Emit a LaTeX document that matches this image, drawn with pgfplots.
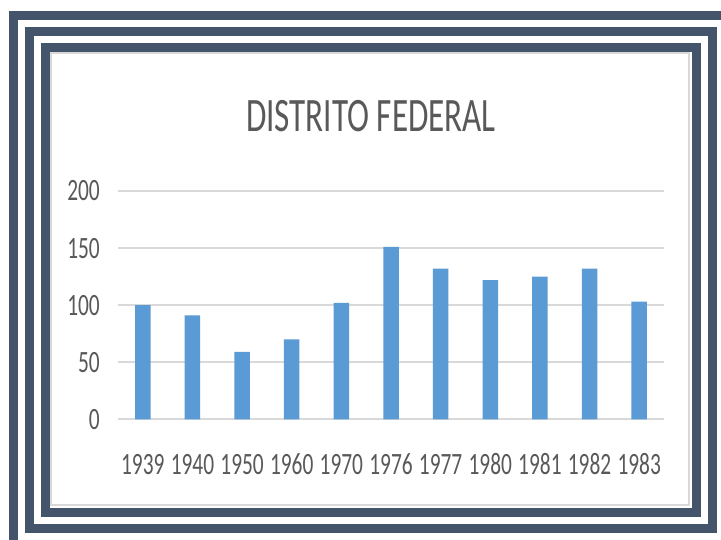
\documentclass[border=0pt]{standalone}
\usepackage{fontspec}
\setmainfont[FakeStretch=0.69]{Carlito}
\usepackage{pgfplots}
\pgfplotsset{compat=1.18}
\definecolor{framec}{HTML}{44546A}
\definecolor{barc}{HTML}{5B9BD5}
\definecolor{gridc}{HTML}{D9D9D9}
\definecolor{txtc}{HTML}{595959}
\begin{document}
\begin{tikzpicture}
\useasboundingbox (0pt,0pt) rectangle (721pt,540pt);
\begin{scope}
\clip (0pt,0pt) rectangle (721pt,540pt);
\fill[white] (0pt,0pt) rectangle (721pt,540pt);
\draw[framec, line width=9pt] (13pt,-8pt) rectangle (735pt,524.5pt);
\draw[framec, line width=9pt] (29.5pt,11.5pt) rectangle (712.5pt,508.5pt);
\draw[framec, line width=9pt] (45.5pt,27.5pt) rectangle (696.5pt,492.5pt);
\draw[gridc, fill=white, line width=2pt] (51pt,35pt) rectangle (689pt,487pt);
\end{scope}
\node[anchor=base, text=txtc, font=\fontsize{48}{48}\selectfont, inner sep=0pt] at (371pt,408.3pt) {DISTRITO FEDERAL};
\begin{axis}[
  at={(118pt,120.7pt)}, anchor=south west,
  scale only axis, width=546pt, height=228.3pt,
  xmin=-0.5, xmax=10.5, ymin=0, ymax=200,
  ytick={0,50,100,150,200},
  xtick=data,
  xticklabels={1939,1940,1950,1960,1970,1976,1977,1980,1981,1982,1983},
  axis line style={draw=none},
  major tick length=0pt,
  ymajorgrids,
  grid style={gridc, line width=2pt},
  /pgf/number format/assume math mode=true,
  ticklabel style={font=\fontsize{31}{31}\selectfont, text=txtc, inner sep=0pt},
  yticklabel style={anchor=east, xshift=-18pt},
  xticklabel style={anchor=base, yshift=-55.7pt},
  clip=false,
]
\addplot[ybar, bar width=15.5pt, fill=barc, draw=none] coordinates {
(0,100) (1,91) (2,59) (3,70) (4,102) (5,151) (6,132) (7,122) (8,125) (9,132) (10,103)
};
\end{axis}
\end{tikzpicture}
\end{document}
